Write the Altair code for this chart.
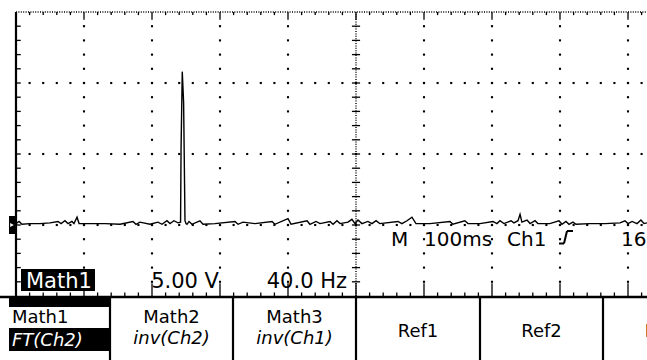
import altair as alt
import numpy as np
import pandas as pd

# Math1 = FFT of Ch2: frequency (Hz) and magnitude (V)
freq_hz = [0, 1.8, 3.5, 8.2, 14.1, 20, 24.7, 26.5, 28.8, 30.6, 32.9, 34.1, 35.9, 37.1,
           43.5, 52.4, 61.2, 68.8, 70.6, 72.9, 78.8, 83.5, 85.9, 88.8, 90.6, 92.9, 95.3,
           96.8, 97.1, 97.8, 98.6, 99.4, 100.0, 100.6, 101.8, 103.5, 108.2, 110, 117,
           128.8, 130.6, 133.5, 140.6, 150.6, 152.3, 160, 161.8, 171.2, 172.9, 176.5,
           178.8, 184.7, 186.5, 188.8, 190.6, 195.3, 197.6, 199.4, 201.2, 203.5, 207,
           209.4, 211.8, 214, 224.7, 227, 230, 232.9, 235.3, 243.5, 255.3, 257, 264,
           265.9, 272.9, 280.6, 282.9, 284.7, 287, 291.2, 292.9, 295.3, 296.5, 297.6,
           300.6, 302.4, 305.3, 307, 314, 319.4, 321.2, 323.5, 325.3, 327.6, 329.4,
           337.6, 346.5, 355.3, 358.2, 360, 362.4, 365.3, 367.6, 369.4, 371.2]
mag_v = [0.1, 0.25, 0.05, 0.1, 0.1, 0.15, 0.25, 0.1, 0.3, 0.1, 0.25, 0.1, 0.55, 0.1,
         0.1, 0.1, 0.05, 0.25, 0.05, 0.2, 0.05, 0.2, 0.05, 0.3, 0.1, 0.3, 0.15,
         0.2, 5.4, 10.8, 8.6, 0.3, 0.1, 0.05, 0.25, 0.05, 0.3, 0.05, 0.1,
         0.25, 0.05, 0.2, 0.1, 0.25, 0.05, 0.45, 0.05, 0.3, 0.05, 0.25,
         0.1, 0.25, 0.05, 0.3, 0.1, 0.2, 0.4, 0.1, 0.35, 0.1, 0.25,
         0.1, 0.3, 0.1, 0.25, 0.1, 0.3, 0.55, 0.1, 0.1, 0.25, 0.05, 0.3,
         0.1, 0.1, 0.25, 0.1, 0.3, 0.1, 0.3, 0.15, 0.3, 0.75, 0.2,
         0.35, 0.1, 0.3, 0.1, 0.1, 0.3, 0.05, 0.25, 0.05, 0.2, 0.05,
         0.1, 0.1, 0.15, 0.3, 0.1, 0.25, 0.1, 0.35, 0.1, 0.15]

# On-screen readouts
channel_label = "Math1"
vert_readout = "5.00 V"
horiz_readout = "40.0 Hz"
timebase_readout = ["M", "100ms", "Ch1"]
trigger_readout = "16"

# Bottom soft-key menu
menu_titles = ["Math1", "Math2", "Math3", "Ref1", "Ref2", "Ref3"]
menu_subtitles = ["FT(Ch2)", "inv(Ch2)", "inv(Ch1)", "", "", ""]

# ---- screen geometry ----
W, H = 647, 360
X0_PX, Y0_PX = 16, 225          # pixel position of 0 Hz and 0 V
PX_DIV_X, PX_DIV_Y = 68, 71
HZ_DIV, V_DIV = 40, 5
FONT = "DejaVu Sans"

x_scale = alt.Scale(domain=[(0 - X0_PX) / PX_DIV_X * HZ_DIV, (W - X0_PX) / PX_DIV_X * HZ_DIV],
                    nice=False, zero=False)
y_scale = alt.Scale(domain=[(Y0_PX - H) / PX_DIV_Y * V_DIV, (Y0_PX - 0) / PX_DIV_Y * V_DIV],
                    nice=False, zero=False)
X_MAX = (W - X0_PX) / PX_DIV_X * HZ_DIV
V_TOP, V_BOT = 15, -5
MINOR_X = HZ_DIV / 5
MINOR_Y = V_DIV / 5

one = pd.DataFrame({"k": [0]})


def X(field="x"):
    return alt.X(f"{field}:Q", scale=x_scale, axis=None)


def Y(field="y"):
    return alt.Y(f"{field}:Q", scale=y_scale, axis=None)


def px_rule(x1, y1, x2, y2, width=2, color="black"):
    return alt.Chart(one).mark_rule(color=color, strokeWidth=width).encode(
        x=alt.value(x1), y=alt.value(y1), x2=alt.value(x2), y2=alt.value(y2))


def px_rect(x1, y1, x2, y2, color="black"):
    return alt.Chart(one).mark_rect(color=color).encode(
        x=alt.value(x1), y=alt.value(y1), x2=alt.value(x2), y2=alt.value(y2))


def px_text(text, x, y, size=21, align="left", color="black", style="normal"):
    return alt.Chart(one).mark_text(
        align=align, baseline="alphabetic", fontSize=size, font=FONT,
        color=color, fontStyle=style).encode(
        x=alt.value(x), y=alt.value(y), text=alt.value(text))


layers = []

# ---- graticule ----
major_cols = [k * HZ_DIV for k in range(1, 10) if k != 5]
col_dots = pd.DataFrame([(c, V_BOT + j * MINOR_Y) for c in major_cols for j in range(1, 20)],
                        columns=["x", "y"])
row_dots = pd.DataFrame([(i * MINOR_X, v) for v in (0, 5, 10) for i in range(1, 47)],
                        columns=["x", "y"])
dots = pd.concat([col_dots, row_dots])
layers.append(alt.Chart(dots).mark_square(size=4.5, color="black", opacity=1).encode(x=X(), y=Y()))

# dense dotted centre vertical and top border
center_x = 5 * HZ_DIV
layers.append(alt.Chart(pd.DataFrame({"x": [center_x], "y": [V_BOT], "y2": [V_TOP]}))
              .mark_rule(color="black", strokeWidth=1.4, strokeDash=[1, 1.4])
              .encode(x=X(), y=Y(), y2="y2:Q"))
layers.append(alt.Chart(pd.DataFrame({"x": [0], "x2": [X_MAX], "y": [V_TOP]}))
              .mark_rule(color="black", strokeWidth=1.4, strokeDash=[1, 1.4])
              .encode(x=X(), x2="x2:Q", y=Y()))

# small ticks on centre vertical and left border
tick_v = np.arange(V_BOT + MINOR_Y, V_TOP, MINOR_Y)
ctr_ticks = pd.DataFrame({"x": center_x - 2.4, "x2": center_x + 2.4, "y": tick_v})
left_ticks = pd.DataFrame({"x": 0.0, "x2": 2.8, "y": tick_v})
layers.append(alt.Chart(pd.concat([ctr_ticks, left_ticks])).mark_rule(color="black", strokeWidth=1.3)
              .encode(x=X(), x2="x2:Q", y=Y()))

# ticks hanging from the top border and standing on the bottom border
tick_h = np.arange(MINOR_X, X_MAX, MINOR_X)
is_major = np.isclose(np.mod(tick_h, HZ_DIV), 0)
top_len = np.where(is_major, 0.55, 0.22)
bot_len = np.where(is_major, 0.9, 0.25)
top_ticks = pd.DataFrame({"x": tick_h, "y": V_TOP, "y2": V_TOP - top_len})
bot_ticks = pd.DataFrame({"x": tick_h, "y": V_BOT, "y2": V_BOT + bot_len})
layers.append(alt.Chart(pd.concat([top_ticks, bot_ticks])).mark_rule(color="black", strokeWidth=1.3)
              .encode(x=X(), y=Y(), y2="y2:Q"))

# solid left border
layers.append(alt.Chart(pd.DataFrame({"x": [0], "y": [V_BOT], "y2": [V_TOP]}))
              .mark_rule(color="black", strokeWidth=2.2).encode(x=X(), y=Y(), y2="y2:Q"))

# ---- waveform ----
trace = pd.DataFrame({"x": freq_hz, "y": mag_v})
layers.append(alt.Chart(trace).mark_line(color="black", strokeWidth=1.4, clip=True)
              .encode(x=X(), y=Y(), order="x:Q"))

# ground reference marker on the left edge
layers.append(px_rect(9, 216, 16, 234))
layers.append(alt.Chart(one).mark_point(shape="triangle-right", filled=True, color="white",
                                         size=18, opacity=1)
              .encode(x=alt.value(12), y=alt.value(225)))

# ---- readouts inside the screen ----
layers.append(px_rect(21, 269, 95, 291))
layers.append(px_text(channel_label, 26, 288, color="white"))
layers.append(px_text(vert_readout, 219, 288, align="right"))
layers.append(px_text(horiz_readout, 347, 288, align="right"))
layers.append(px_text(timebase_readout[0], 391, 246, size=20))
layers.append(px_text(timebase_readout[1], 424, 246, size=20))
layers.append(px_text(timebase_readout[2], 507, 246, size=20))
layers.append(px_text(trigger_readout, 621, 246, size=20))
# rising-edge trigger symbol
layers.append(px_rule(559, 243.5, 564, 243.5))
layers.append(px_rule(564, 243.5, 567, 231))
layers.append(px_rule(567, 231, 573, 231))

# ---- soft-key menu ----
layers.append(px_rule(0, 297, W, 297, width=2.4))
dividers = [110, 233, 356, 480, 603]
for d in dividers:
    layers.append(px_rule(d, 297, d, H, width=2.2))
layers.append(px_rect(9, 298, 110, 307))
layers.append(px_rect(9, 328, 109, 351))
centers = [None, 171.5, 294.5, 418, 541.5, 665]
for i, (t, s) in enumerate(zip(menu_titles, menu_subtitles)):
    if i == 0:
        layers.append(px_text(t, 12, 323, size=18))
        layers.append(px_text(s, 12, 346, size=18, color="white", style="italic"))
    elif s:
        layers.append(px_text(t, centers[i], 323, size=18, align="center"))
        layers.append(px_text(s, centers[i], 344, size=18, align="center", style="italic"))
    else:
        layers.append(px_text(t, centers[i], 337, size=18, align="center"))

chart = (alt.layer(*layers)
         .properties(width=W, height=H, padding=0, autosize="none", background="white")
         .configure_view(stroke=None))

chart.save("out.html", embed_options={"renderer": "svg", "actions": False})
